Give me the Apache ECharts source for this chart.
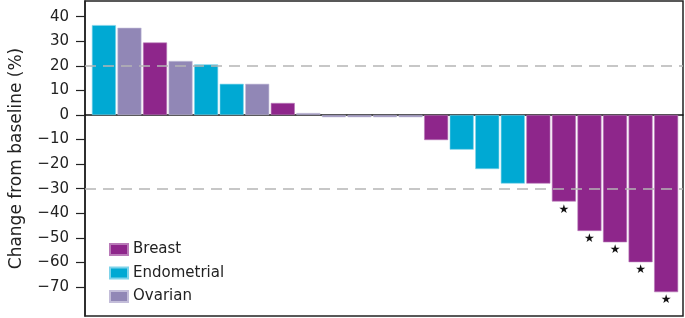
<!DOCTYPE html>
<html>
<head>
<meta charset="utf-8">
<script src="https://cdn.jsdelivr.net/npm/echarts@6/dist/echarts.min.js"></script>
<style>html,body{margin:0;padding:0;background:#fff}#c{width:685px;height:318px}#err{position:absolute;left:300px;top:20px;font:11px monospace;color:red;width:380px;white-space:pre-wrap}</style>
</head>
<body>
<div id="c"></div>
<div id="err"></div>
<script>
// Data
const tumourTypes = ['Breast', 'Endometrial', 'Ovarian'];
const barType = ['Endometrial','Ovarian','Breast','Ovarian','Endometrial','Endometrial','Ovarian','Breast','Ovarian','Ovarian','Ovarian','Ovarian','Ovarian','Breast','Endometrial','Endometrial','Endometrial','Breast','Breast','Breast','Breast','Breast','Breast'];
const changeValues = [36.6, 35.5, 29.5, 22, 20.6, 12.7, 12.7, 4.9, 0.8, -0.9, -0.9, -0.9, -0.9, -10.2, -14.1, -22, -27.9, -27.9, -35.2, -47.2, -51.8, -59.9, -72.1];
const starred = [false,false,false,false,false,false,false,false,false,false,false,false,false,false,false,false,false,false,true,true,true,true,true];
const yTicks = [40, 30, 20, 10, 0, -10, -20, -30, -40, -50, -60, -70];
const thresholds = [20, -30];

const colors = {Breast: '#8E268B', Endometrial: '#00A9D3', Ovarian: '#9187B6'};
const borderColors = {Breast: '#B97AB8', Endometrial: '#7FD3EA', Ovarian: '#C3BDD9'};
const FONT = 'DejaVu Sans';

window.onerror = function (m) { document.getElementById('err').textContent += 'onerror: ' + m + '\n'; };

const series = tumourTypes.map((t, si) => ({
  name: t,
  type: 'bar',
  barWidth: 24,
  barGap: '-100%',
  itemStyle: {color: colors[t], borderColor: borderColors[t], borderWidth: 0.6},
  data: changeValues.map((v, i) => barType[i] === t ? {value: [i + 1, v], star: starred[i]} : null).filter(d => d),
  label: {
    show: true,
    position: 'bottom',
    distance: 2,
    fontSize: 12,
    color: '#111',
    fontFamily: FONT,
    formatter: p => p.data.star ? '★' : ''
  },
  markLine: si === 0 ? {
    silent: true,
    symbol: 'none',
    label: {show: false},
    lineStyle: {color: '#b5b5b5', type: [11, 7], width: 1.5},
    data: thresholds.map(y => ({yAxis: y}))
  } : undefined
}));

const chart = echarts.init(document.getElementById('c'));
try {
chart.setOption({
  animation: false,
  textStyle: {fontFamily: FONT},
  grid: {left: 84, right: 2, top: 1, bottom: 2, show: true, borderColor: '#222', borderWidth: 1.5, backgroundColor: 'transparent'},
  legend: {
    orient: 'vertical', left: 109, top: 242, padding: 0,
    itemWidth: 18, itemHeight: 11, itemGap: 8.5,
    icon: 'rect',
    textStyle: {fontSize: 15, color: '#222', fontFamily: FONT},
    data: tumourTypes
  },
  xAxis: {
    type: 'value', min: 0.26, max: 23.66,
    axisLine: {show: true, onZero: true, lineStyle: {color: '#111', width: 1.5}},
    axisTick: {show: false}, axisLabel: {show: false}, splitLine: {show: false}
  },
  yAxis: {
    type: 'value', min: -81.8, max: 46.4,
    name: 'Change from baseline (%)', nameLocation: 'middle', nameGap: 60,
    nameTextStyle: {fontSize: 17, color: '#222', fontFamily: FONT},
    axisLine: {show: true, lineStyle: {color: '#222', width: 1.5}},
    axisTick: {show: true, length: 9, customValues: yTicks, lineStyle: {color: '#222', width: 1.2}},
    axisLabel: {fontSize: 15, color: '#222', margin: 16, fontFamily: FONT, customValues: yTicks, formatter: v => String(v).replace('-', '\u2212')},
    splitLine: {show: false}
  },
  series: series
});
} catch (e) {
  document.getElementById('err').textContent += 'catch: ' + e.message + '\n' + (e.stack || '').slice(0, 600);
}
</script>
</body>
</html>
